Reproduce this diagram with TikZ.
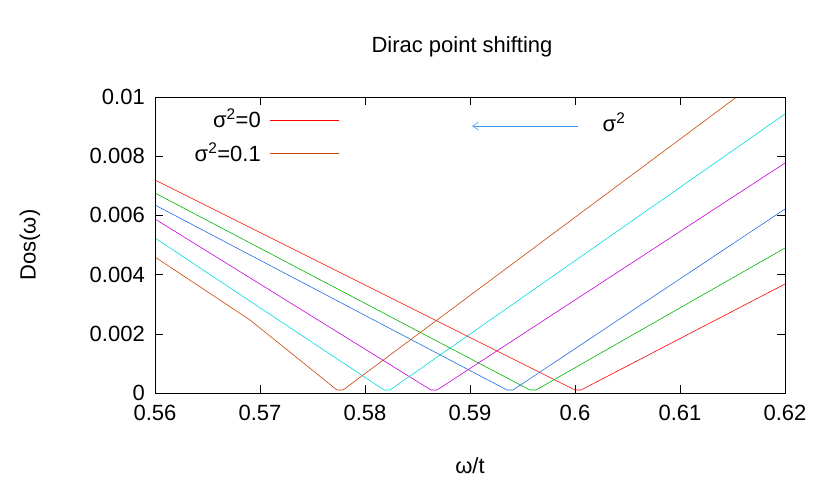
\documentclass[tikz,border=0pt]{standalone}
\usepackage{fontspec}
\setmainfont{Liberation Sans}
\usetikzlibrary{arrows.meta}
\begin{document}
\begin{tikzpicture}[x=1pt,y=-1pt,lbl/.style={font=\fontsize{22}{24}\selectfont,inner sep=1pt},crv/.style={line width=0.6pt,line join=round}]
\useasboundingbox (0,0) rectangle (830,498);
\definecolor{cA}{RGB}{255,0,0}\definecolor{cB}{RGB}{0,180,0}\definecolor{cC}{RGB}{30,110,230}
\definecolor{cD}{RGB}{200,0,220}\definecolor{cE}{RGB}{0,220,220}\definecolor{cF}{RGB}{200,70,0}
\definecolor{arr}{RGB}{60,150,240}
\foreach \i/\l in {0/0.56,1/0.57,2/0.58,3/0.59,4/0.6,5/0.61,6/0.62}{
 \pgfmathsetmacro\xx{155+105*\i}
 \draw (\xx,393)--(\xx,385) (\xx,97)--(\xx,105);
 \node[lbl,anchor=north] (xt\i) at (\xx,404) {\l};}
\foreach \i/\l in {0/0,1/0.002,2/0.004,3/0.006,4/0.008,5/0.01}{
 \pgfmathsetmacro\yy{393-59.2*\i}
 \draw (155,\yy)--(163,\yy) (785,\yy)--(777,\yy);
 \node[lbl,anchor=east] (yt\i) at (146,\yy) {\l};}
\begin{scope}
\clip (155,97) rectangle (785,393);
\draw[crv,cA] (155,180)--(575,390)--(581,390)--(785,284);
\draw[crv,cB] (155,193)--(530,390)--(536,390)--(785,248);
\draw[crv,cC] (155,205)--(507,390)--(513,390)--(785,209);
\draw[crv,cD] (155,219)--(431,390)--(437,390)--(785,163);
\draw[crv,cE] (155,238)--(384,390)--(390,390)--(785,114);
\draw[crv,cF] (155,257)--(250,320)--(337,390)--(343,390)--(785,61);
\end{scope}
\draw[line width=0.8pt] (155,97) rectangle (785,393);
\node[lbl,anchor=east] (l1) at (262,118) {σ\textsuperscript{2}=0};
\draw[crv,cA] (270,120)--(339,120);
\node[lbl,anchor=east] (l2) at (262,152) {σ\textsuperscript{2}=0.1};
\draw[line width=0.9pt,cF] (270,153.5)--(339,153.5);
\coordinate (a1) at (578,126); \coordinate (a2) at (472,126);
\draw[arr,-{Straight Barb[length=6pt,width=8pt]},line width=0.6pt] (a1)--(a2);
\node[lbl] (sg) at (614,122) {σ\textsuperscript{2}};
\node[lbl] (title) at (462,47) {Dirac point shifting};
\node[lbl,rotate=90] (yl) at (30,245) {Dos(ω)};
\node[lbl] (xl) at (470,466) {ω/t};
\end{tikzpicture}
\end{document}
